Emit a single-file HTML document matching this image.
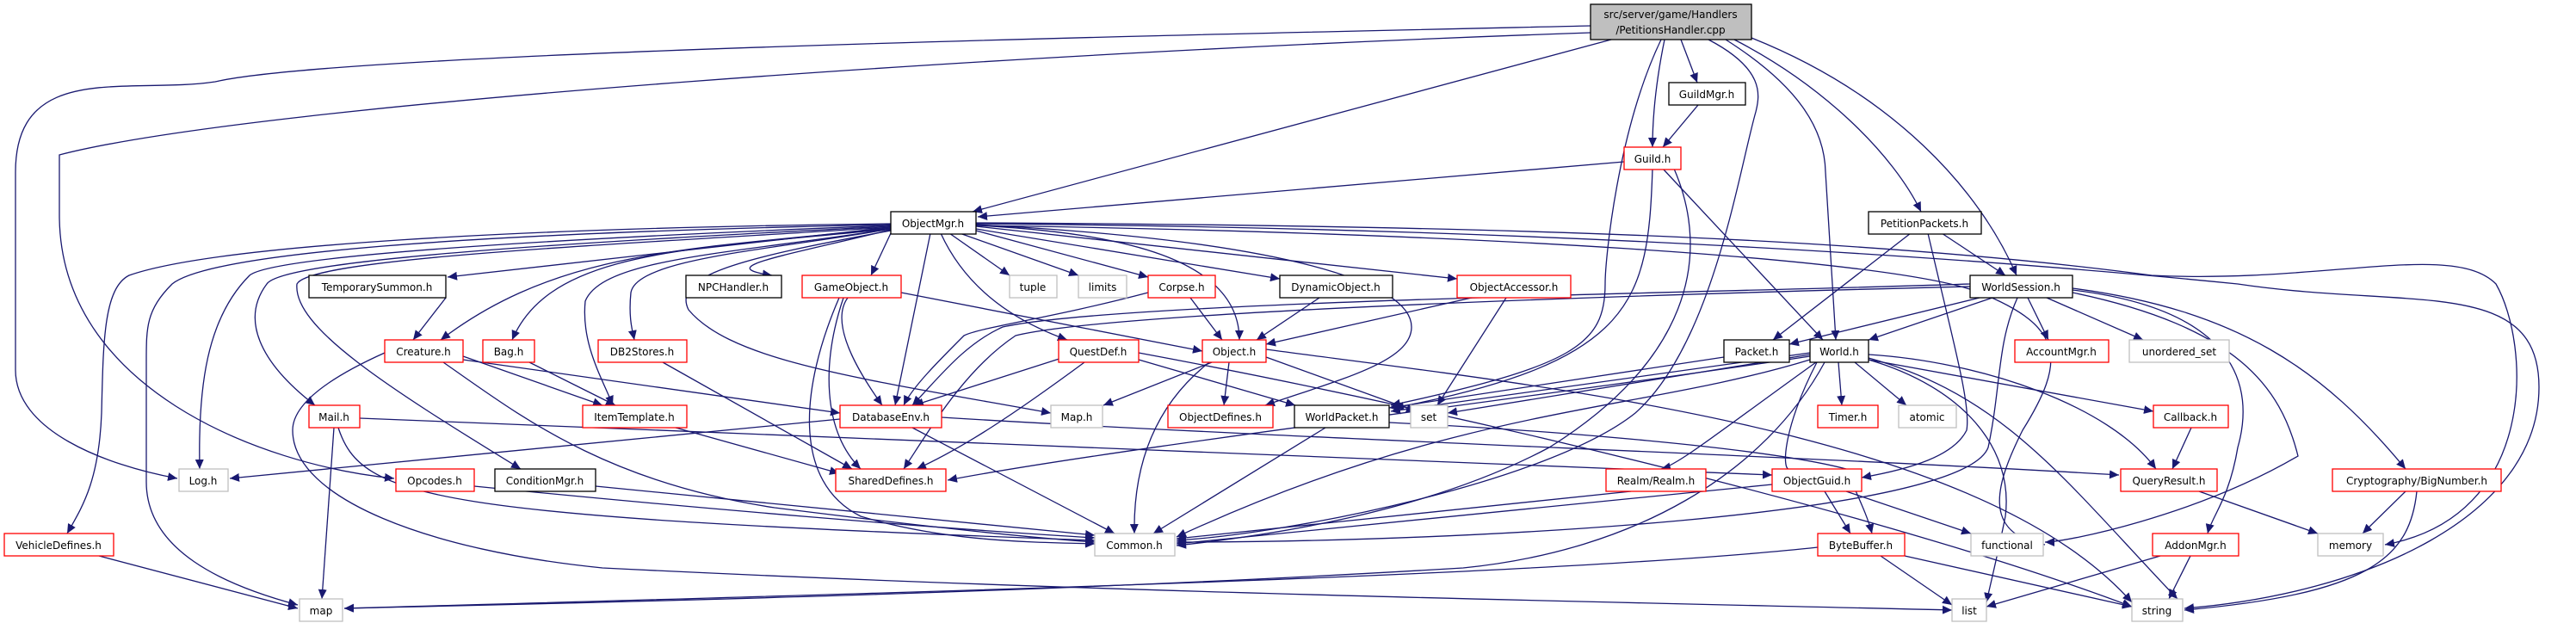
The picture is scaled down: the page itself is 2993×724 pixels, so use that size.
<!DOCTYPE html>
<html><head><meta charset="utf-8"><style>
html,body{margin:0;padding:0;background:#fff;}
svg{display:block}
text{font-family:"DejaVu Sans","Liberation Sans",sans-serif;font-size:12px;fill:#000;text-anchor:middle}
.e{fill:none;stroke:#191970;stroke-width:1.3;marker-end:url(#a)}
.b{fill:#fff;stroke:#000;stroke-width:1.3}
.r{fill:#fff;stroke:#ff0000;stroke-width:1.3}
.g{fill:#fff;stroke:#bfbfbf;stroke-width:1.3}
</style></head><body>
<svg width="2993" height="724" viewBox="0 0 2993 724" xmlns="http://www.w3.org/2000/svg">
<defs><marker id="a" markerUnits="userSpaceOnUse" markerWidth="12" markerHeight="10" refX="11" refY="5" orient="auto"><path d="M0,0 L11,5 L0,10 z" fill="#191970"/></marker></defs>
<g>
<path class="e" d="M1848,30 C1400,40 400,60 250,95 C150,110 18,70 18,200 L18,430 C18,500 120,540 206,556"/>
<path class="e" d="M1848,38 C1200,60 300,120 69,180 L69,250 C69,450 300,540 458,556"/>
<path class="e" d="M1872,46 L1130,246"/>
<path class="e" d="M1953,46 L1972,96"/>
<path class="e" d="M1934,46 C1925,90 1920,130 1920,171"/>
<path class="e" d="M1930,46 C1880,150 1865,300 1865,330 C1865,400 1830,425 1616,471"/>
<path class="e" d="M1985,46 C2050,80 2045,110 2040,130 C2020,200 1990,400 1900,480 C1800,560 1500,620 1367,628"/>
<path class="e" d="M2005,46 C2090,100 2120,150 2121,200 L2133,395"/>
<path class="e" d="M2015,46 C2120,100 2200,180 2232,246"/>
<path class="e" d="M2035,44 C2200,110 2300,220 2343,320"/>
<path class="e" d="M1973,122 L1932,171"/>
<path class="e" d="M1887,188 L1136,252"/>
<path class="e" d="M1932,196 L2118,395"/>
<path class="e" d="M1920,196 C1915,350 1900,420 1620,474"/>
<path class="e" d="M1945,196 C1990,300 1960,420 1800,520 C1650,600 1450,625 1367,634"/>
<path class="e" d="M1035,260 C600,265 250,285 150,320 C120,335 120,400 118,480 C115,560 95,590 78,620"/>
<path class="e" d="M1035,261 C600,270 250,290 200,330 C170,360 170,380 170,420 L170,560 C170,640 260,680 346,703"/>
<path class="e" d="M1035,262 C700,275 320,295 290,320 C240,370 230,450 232,545"/>
<path class="e" d="M1035,263 C700,280 330,300 310,330 C280,370 300,420 366,471"/>
<path class="e" d="M1035,264 C700,285 360,300 345,330 C340,380 450,450 605,545"/>
<path class="e" d="M1035,264 L520,322"/>
<path class="e" d="M1035,265 C800,290 650,290 512,395"/>
<path class="e" d="M1035,266 C800,290 640,290 595,395"/>
<path class="e" d="M1035,266 C850,295 700,300 680,350 C675,400 700,440 712,471"/>
<path class="e" d="M1035,266 C900,290 740,300 733,340 C730,370 735,385 737,395"/>
<path class="e" d="M1035,267 C900,300 830,310 897,320"/>
<path class="e" d="M1035,268 C860,300 780,320 800,360 C850,420 1000,440 1221,480"/>
<path class="e" d="M1035,271 L1012,320"/>
<path class="e" d="M1081,271 L1040,471"/>
<path class="e" d="M1093,271 C1120,330 1170,370 1240,395"/>
<path class="e" d="M1103,271 L1173,320"/>
<path class="e" d="M1115,271 L1253,320"/>
<path class="e" d="M1134,268 L1334,322"/>
<path class="e" d="M1134,266 L1487,324"/>
<path class="e" d="M1134,263 L1693,324"/>
<path class="e" d="M1134,262 C1300,270 1440,300 1440,395"/>
<path class="e" d="M1134,261 C1500,280 1640,330 1640,380 C1640,420 1560,440 1470,471"/>
<path class="e" d="M1134,260 C1800,265 2300,300 2600,330 C2800,360 2950,320 2950,450 C2950,600 2750,690 2538,707"/>
<path class="e" d="M1134,259 C1800,262 2200,280 2500,320 C2700,330 2850,280 2900,330 C2940,400 2950,600 2771,633"/>
<path class="e" d="M1134,262 C1700,270 2200,300 2300,340 C2400,380 2400,420 2350,500 C2320,560 2300,620 2376,633"/>
<path class="e" d="M518,346 L480,395"/>
<path class="e" d="M538,414 L700,471"/>
<path class="e" d="M538,418 L976,480"/>
<path class="e" d="M515,421 C600,480 700,560 900,590 C1100,615 1200,625 1272,630"/>
<path class="e" d="M447,410 C380,440 340,470 340,500 C340,580 500,640 700,660 C1300,690 1900,700 2268,709"/>
<path class="e" d="M615,421 L715,471"/>
<path class="e" d="M770,421 L990,545"/>
<path class="e" d="M785,497 L975,550"/>
<path class="e" d="M388,497 L374,696"/>
<path class="e" d="M393,497 C420,580 500,600 1272,628"/>
<path class="e" d="M418,486 L2059,552"/>
<path class="e" d="M551,565 C800,590 1100,615 1272,625"/>
<path class="e" d="M692,565 L1272,622"/>
<path class="e" d="M115,646 L346,707"/>
<path class="e" d="M976,487 L267,556"/>
<path class="e" d="M1060,497 L1295,620"/>
<path class="e" d="M1094,485 C1500,510 2100,530 2462,552"/>
<path class="e" d="M985,346 C960,380 1010,450 1025,471"/>
<path class="e" d="M980,346 C955,420 955,500 1000,545"/>
<path class="e" d="M975,346 C930,450 920,560 1000,600 C1100,630 1200,630 1272,632"/>
<path class="e" d="M1047,340 L1397,408"/>
<path class="e" d="M1334,340 C1220,370 1140,380 1120,390 C1090,420 1060,450 1050,471"/>
<path class="e" d="M1383,346 L1420,395"/>
<path class="e" d="M1533,346 L1460,395"/>
<path class="e" d="M1710,346 L1471,400"/>
<path class="e" d="M1750,346 L1670,471"/>
<path class="e" d="M1240,414 L1062,471"/>
<path class="e" d="M1260,421 C1180,480 1120,520 1065,545"/>
<path class="e" d="M1323,418 L1505,471"/>
<path class="e" d="M1323,410 C1700,480 2200,600 2477,705"/>
<path class="e" d="M1408,421 L1282,471"/>
<path class="e" d="M1428,421 L1422,471"/>
<path class="e" d="M1405,421 C1330,480 1317,560 1318,620"/>
<path class="e" d="M1471,415 L1645,478"/>
<path class="e" d="M1471,406 C1800,450 2300,500 2477,700"/>
<path class="e" d="M1540,497 L1340,620"/>
<path class="e" d="M1614,491 C1800,500 2050,520 2145,545 C2160,580 2170,600 2175,620"/>
<path class="e" d="M1895,571 L1367,626"/>
<path class="e" d="M2103,410 L1616,478"/>
<path class="e" d="M2103,412 L1682,480"/>
<path class="e" d="M2103,414 C1800,460 1300,520 1101,558"/>
<path class="e" d="M2103,418 C1900,480 1700,470 1367,624"/>
<path class="e" d="M2110,421 C2000,500 1950,540 1930,545"/>
<path class="e" d="M2111,421 C2070,500 2070,550 2080,545"/>
<path class="e" d="M2120,421 C2050,550 1900,640 1700,660 C1200,690 700,700 400,707"/>
<path class="e" d="M2136,421 L2140,471"/>
<path class="e" d="M2155,421 L2215,471"/>
<path class="e" d="M2171,418 L2502,478"/>
<path class="e" d="M2171,412 C2300,420 2450,470 2505,545"/>
<path class="e" d="M2171,418 C2280,450 2340,520 2330,600 C2320,650 2310,690 2308,700"/>
<path class="e" d="M2171,416 C2330,460 2400,560 2530,696"/>
<path class="e" d="M2003,415 L1614,474"/>
<path class="e" d="M2546,497 L2524,545"/>
<path class="e" d="M2555,571 L2693,620"/>
<path class="e" d="M2289,330 C2000,340 1300,350 1165,380 C1120,400 1090,440 1060,471"/>
<path class="e" d="M2289,333 C2000,340 1300,360 1180,390 C1120,430 1080,500 1050,545"/>
<path class="e" d="M2300,346 L2079,400"/>
<path class="e" d="M2315,346 L2171,395"/>
<path class="e" d="M2356,346 L2380,395"/>
<path class="e" d="M2378,346 L2490,395"/>
<path class="e" d="M2408,337 C2600,360 2620,450 2600,520 C2590,580 2570,600 2565,620"/>
<path class="e" d="M2408,340 C2600,380 2650,450 2670,530 C2550,600 2400,630 2376,630"/>
<path class="e" d="M2408,335 C2600,360 2700,430 2795,545"/>
<path class="e" d="M2344,346 C2320,400 2325,450 2310,520 C2280,600 1700,630 1367,630"/>
<path class="e" d="M2220,271 L2060,395"/>
<path class="e" d="M2256,271 L2330,320"/>
<path class="e" d="M2240,271 C2270,400 2290,470 2285,500 C2270,530 2220,545 2163,555"/>
<path class="e" d="M2059,563 L1367,632"/>
<path class="e" d="M2120,571 L2150,620"/>
<path class="e" d="M2145,571 L2290,620"/>
<path class="e" d="M2112,636 C1800,670 1000,690 400,707"/>
<path class="e" d="M2185,646 L2268,703"/>
<path class="e" d="M2213,646 L2477,705"/>
<path class="e" d="M2510,646 L2308,705"/>
<path class="e" d="M2545,646 L2520,696"/>
<path class="e" d="M2795,571 L2745,620"/>
<path class="e" d="M2808,571 C2800,650 2750,690 2538,709"/>
</g>
<g>
<rect x="1848" y="5" width="187" height="41" fill="#bfbfbf" stroke="#000" stroke-width="1.3"/>
<text x="1941" y="21">src/server/game/Handlers</text><text x="1941" y="39">/PetitionsHandler.cpp</text>
<rect class="b" x="1939" y="96" width="89" height="26"/><text x="1983" y="114">GuildMgr.h</text>
<rect class="r" x="1887" y="171" width="66" height="26"/><text x="1920" y="189">Guild.h</text>
<rect class="b" x="1035" y="246" width="99" height="26"/><text x="1084" y="264">ObjectMgr.h</text>
<rect class="b" x="2171" y="246" width="131" height="26"/><text x="2236" y="264">PetitionPackets.h</text>
<rect class="b" x="359" y="320" width="159" height="26"/><text x="438" y="338">TemporarySummon.h</text>
<rect class="b" x="797" y="320" width="111" height="26"/><text x="852" y="338">NPCHandler.h</text>
<rect class="r" x="932" y="320" width="115" height="26"/><text x="989" y="338">GameObject.h</text>
<rect class="g" x="1173" y="320" width="55" height="26"/><text x="1200" y="338">tuple</text>
<rect class="g" x="1253" y="320" width="56" height="26"/><text x="1281" y="338">limits</text>
<rect class="r" x="1334" y="320" width="78" height="26"/><text x="1373" y="338">Corpse.h</text>
<rect class="b" x="1487" y="320" width="131" height="26"/><text x="1552" y="338">DynamicObject.h</text>
<rect class="r" x="1693" y="320" width="132" height="26"/><text x="1759" y="338">ObjectAccessor.h</text>
<rect class="b" x="2289" y="320" width="119" height="26"/><text x="2348" y="338">WorldSession.h</text>
<rect class="r" x="447" y="395" width="91" height="26"/><text x="492" y="413">Creature.h</text>
<rect class="r" x="561" y="395" width="60" height="26"/><text x="591" y="413">Bag.h</text>
<rect class="r" x="695" y="395" width="103" height="26"/><text x="746" y="413">DB2Stores.h</text>
<rect class="r" x="1230" y="395" width="93" height="26"/><text x="1276" y="413">QuestDef.h</text>
<rect class="r" x="1397" y="395" width="74" height="26"/><text x="1434" y="413">Object.h</text>
<rect class="b" x="2003" y="395" width="76" height="26"/><text x="2041" y="413">Packet.h</text>
<rect class="b" x="2103" y="395" width="68" height="26"/><text x="2137" y="413">World.h</text>
<rect class="r" x="2341" y="395" width="109" height="26"/><text x="2395" y="413">AccountMgr.h</text>
<rect class="g" x="2474" y="395" width="116" height="26"/><text x="2532" y="413">unordered_set</text>
<rect class="r" x="359" y="471" width="59" height="26"/><text x="388" y="489">Mail.h</text>
<rect class="r" x="677" y="471" width="121" height="26"/><text x="737" y="489">ItemTemplate.h</text>
<rect class="r" x="976" y="471" width="118" height="26"/><text x="1035" y="489">DatabaseEnv.h</text>
<rect class="g" x="1221" y="471" width="60" height="26"/><text x="1251" y="489">Map.h</text>
<rect class="r" x="1357" y="471" width="122" height="26"/><text x="1418" y="489">ObjectDefines.h</text>
<rect class="b" x="1504" y="471" width="110" height="26"/><text x="1559" y="489">WorldPacket.h</text>
<rect class="g" x="1639" y="471" width="43" height="26"/><text x="1660" y="489">set</text>
<rect class="r" x="2112" y="471" width="70" height="26"/><text x="2147" y="489">Timer.h</text>
<rect class="g" x="2206" y="471" width="67" height="26"/><text x="2239" y="489">atomic</text>
<rect class="r" x="2502" y="471" width="87" height="26"/><text x="2545" y="489">Callback.h</text>
<rect class="g" x="208" y="545" width="57" height="26"/><text x="236" y="563">Log.h</text>
<rect class="r" x="460" y="545" width="91" height="26"/><text x="505" y="563">Opcodes.h</text>
<rect class="b" x="575" y="545" width="117" height="26"/><text x="633" y="563">ConditionMgr.h</text>
<rect class="r" x="971" y="545" width="128" height="26"/><text x="1035" y="563">SharedDefines.h</text>
<rect class="r" x="1866" y="545" width="116" height="26"/><text x="1924" y="563">Realm/Realm.h</text>
<rect class="r" x="2059" y="545" width="104" height="26"/><text x="2111" y="563">ObjectGuid.h</text>
<rect class="r" x="2464" y="545" width="112" height="26"/><text x="2520" y="563">QueryResult.h</text>
<rect class="r" x="2710" y="545" width="196" height="26"/><text x="2808" y="563">Cryptography/BigNumber.h</text>
<rect class="r" x="5" y="620" width="127" height="26"/><text x="68" y="638">VehicleDefines.h</text>
<rect class="g" x="1272" y="620" width="93" height="26"/><text x="1318" y="638">Common.h</text>
<rect class="r" x="2112" y="620" width="101" height="26"/><text x="2162" y="638">ByteBuffer.h</text>
<rect class="g" x="2290" y="620" width="84" height="26"/><text x="2332" y="638">functional</text>
<rect class="r" x="2501" y="620" width="100" height="26"/><text x="2551" y="638">AddonMgr.h</text>
<rect class="g" x="2693" y="620" width="76" height="26"/><text x="2731" y="638">memory</text>
<rect class="g" x="348" y="696" width="50" height="26"/><text x="373" y="714">map</text>
<rect class="g" x="2268" y="696" width="40" height="26"/><text x="2288" y="714">list</text>
<rect class="g" x="2477" y="696" width="59" height="26"/><text x="2506" y="714">string</text>
</g>
</svg>
</body></html>
